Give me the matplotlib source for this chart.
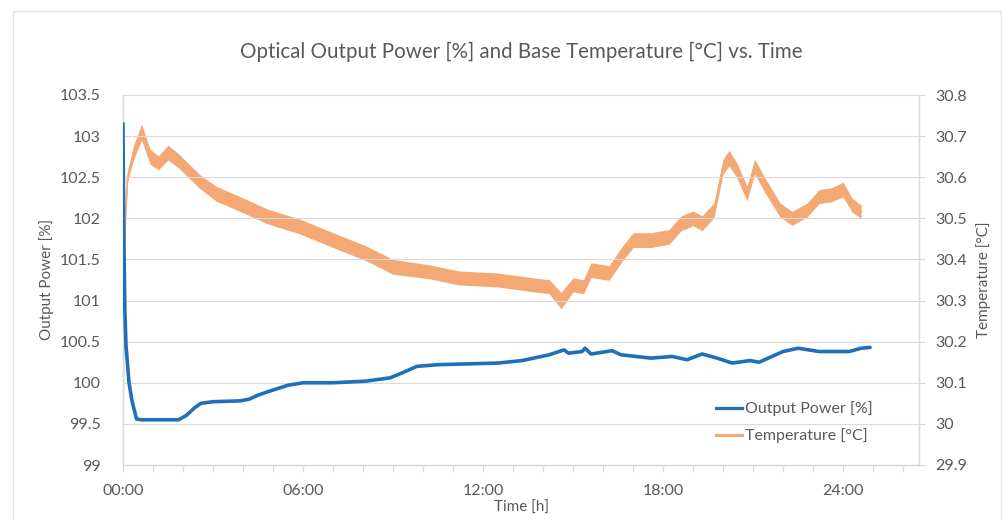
import numpy as np
import matplotlib.pyplot as plt
from matplotlib.lines import Line2D
from matplotlib.patches import Rectangle
from matplotlib.ticker import MultipleLocator, FuncFormatter

plt.rcParams["font.family"] = ["Lato", "DejaVu Sans"]

# ---- data (time in hours) ----
power_t = [0, 0.02, 0.06, 0.1, 0.2, 0.3, 0.45, 0.6, 1.85, 2.1, 2.4, 2.6, 3.0,
           3.9, 4.2, 4.5, 4.9, 5.5, 6.0, 7.0, 8.1, 8.9, 9.3, 9.8, 10.5, 11.5,
           12.5, 13.3, 14.2, 14.7, 14.85, 15.3, 15.4, 15.6, 16.3, 16.6, 17.6,
           18.3, 18.8, 19.3, 19.8, 20.3, 20.9, 21.2, 22.0, 22.5, 23.2, 24.2,
           24.6, 24.9]
power = [103.15, 102.0, 100.9, 100.45, 100.0, 99.78, 99.56, 99.55, 99.55,
         99.6, 99.7, 99.75, 99.77, 99.78, 99.8, 99.85, 99.9, 99.97, 100.0,
         100.0, 100.02, 100.06, 100.12, 100.2, 100.22, 100.23, 100.24, 100.27,
         100.34, 100.40, 100.36, 100.38, 100.42, 100.35, 100.39, 100.34,
         100.30, 100.32, 100.28, 100.35, 100.30, 100.24, 100.27, 100.25,
         100.38, 100.42, 100.38, 100.38, 100.42, 100.43]

temp_t = [0, 0.03, 0.08, 0.15, 0.35, 0.62, 0.9, 1.18, 1.5, 1.85, 2.55, 3.1,
          3.9, 4.8, 5.9, 7.0, 8.1, 9.0, 10.2, 11.2, 12.5, 13.7, 14.2, 14.6,
          15.0, 15.35, 15.6, 16.2, 16.6, 17.0, 17.6, 18.2, 18.6, 19.0, 19.3,
          19.7, 20.0, 20.2, 20.45, 20.8, 21.05, 21.4, 21.9, 22.3, 22.8, 23.2,
          23.6, 24.0, 24.3, 24.6]
temp = [30.0, 30.3, 30.5, 30.6, 30.66, 30.71, 30.65, 30.635, 30.66, 30.64,
        30.59, 30.56, 30.535, 30.505, 30.48, 30.447, 30.415, 30.382, 30.37,
        30.355, 30.35, 30.338, 30.334, 30.30, 30.338, 30.334, 30.374, 30.367,
        30.41, 30.447, 30.447, 30.455, 30.488, 30.50, 30.488, 30.52, 30.626,
        30.646, 30.618, 30.56, 30.626, 30.58, 30.52, 30.50, 30.52, 30.553,
        30.557, 30.57, 30.532, 30.516]
# half-width of the noisy temperature band
temp_spread = [0.002, 0.004, 0.009, 0.014, 0.017, 0.02, 0.018, 0.017, 0.018,
               0.017, 0.017, 0.018, 0.018, 0.018, 0.018, 0.018, 0.018, 0.018,
               0.017, 0.017, 0.017, 0.017, 0.017, 0.02, 0.017, 0.017, 0.018,
               0.018, 0.018, 0.018, 0.018, 0.018, 0.018, 0.018, 0.018, 0.018,
               0.018, 0.019, 0.018, 0.018, 0.018, 0.018, 0.017, 0.017, 0.017,
               0.017, 0.017, 0.018, 0.017, 0.016]

BLUE = "#1F6FBA"
ORANGE = "#F4A874"
GRID = "#D9D9D9"
TXT = "#595959"

fig = plt.figure(figsize=(10.02, 5.2), dpi=100)
fig.patches.append(Rectangle((13 / 1002, -0.1), 988 / 1002, 1.1 - 11 / 520,
                             transform=fig.transFigure, fill=False,
                             ec="#E4E4E4", lw=1))
ax = fig.add_axes([123 / 1002, 55 / 520, 796 / 1002, 370 / 520])
ax2 = ax.twinx()

ax.plot(power_t, power, color=BLUE, lw=2.6, solid_capstyle="round", zorder=3)
ax.set_ylim(99, 103.5)
ax.yaxis.set_major_locator(MultipleLocator(0.5))
ax.yaxis.set_major_formatter(FuncFormatter(lambda v, p: f"{v:g}"))
ax.grid(axis="y", color=GRID, lw=0.8)
ax.set_axisbelow(True)

tt = np.array(temp_t)
tc = np.array(temp)
ts = np.array(temp_spread)
ax2.fill_between(tt, tc - ts, tc + ts, color=ORANGE, lw=0)
ax2.plot(tt, tc, color=ORANGE, lw=1.2)
ax2.set_ylim(29.9, 30.8)
ax2.yaxis.set_major_locator(MultipleLocator(0.1))
ax2.yaxis.set_major_formatter(FuncFormatter(lambda v, p: f"{v:g}"))

ax.set_zorder(ax2.get_zorder() + 1)
ax.patch.set_visible(False)

ax.set_xlim(0, 26.53)
ax.xaxis.set_major_locator(MultipleLocator(6))
ax.xaxis.set_minor_locator(MultipleLocator(1))
ax.xaxis.set_major_formatter(FuncFormatter(lambda v, p: f"{int(v):02d}:00"))

for a in (ax, ax2):
    for s in a.spines.values():
        s.set_color(GRID)
        s.set_linewidth(0.9)
    a.spines["top"].set_visible(False)
ax.tick_params(axis="x", which="both", length=5, color=GRID, width=0.9,
               labelsize=11.5, labelcolor=TXT, pad=9)
ax.tick_params(axis="y", length=0, labelsize=11.5, labelcolor=TXT, pad=16)
ax2.tick_params(axis="y", length=4, color=GRID, width=0.9, labelsize=11.5,
                labelcolor=TXT, pad=8)

ax.set_xlabel("Time [h]", fontsize=11, color=TXT, labelpad=2)
ax.set_ylabel("Output Power [%]", fontsize=11, color=TXT, labelpad=4)
ax2.set_ylabel("Temperature [°C]", fontsize=11, color=TXT, labelpad=6)
ax.set_title("Optical Output Power [%] and Base Temperature [°C] vs. Time",
             fontsize=14.8, color=TXT, pad=27)

handles = [Line2D([], [], color=BLUE, lw=2.3),
           Line2D([], [], color=ORANGE, lw=2.3)]
ax.legend(handles, ["Output Power [%]", "Temperature [°C]"],
          loc="lower right", bbox_to_anchor=(0.96, 0.02), frameon=False,
          fontsize=11.5, labelcolor=TXT, handlelength=1.6, handletextpad=0.2,
          labelspacing=0.75)

fig.savefig("out.png", dpi=100)
